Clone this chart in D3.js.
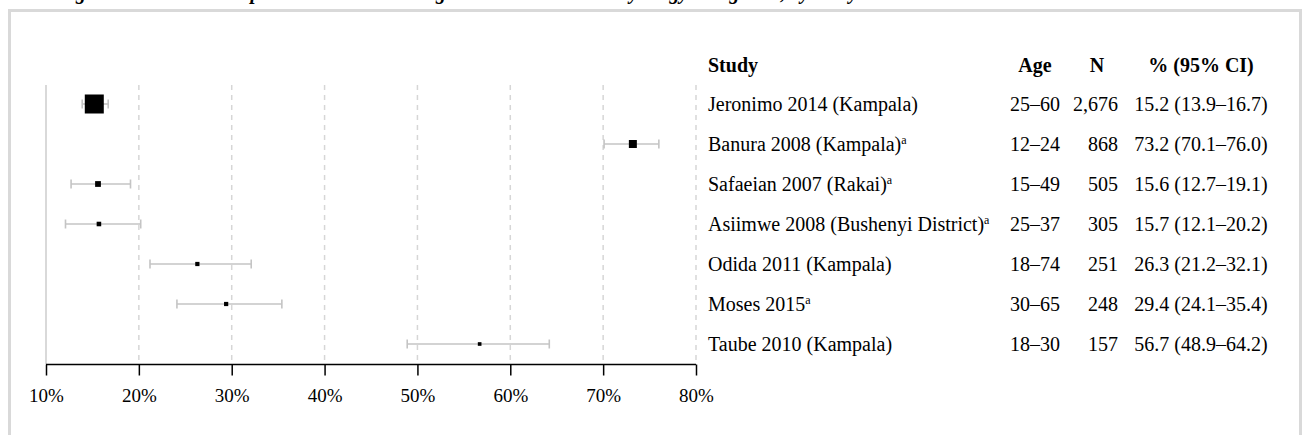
<!DOCTYPE html>
<html>
<head>
<meta charset="utf-8">
<script src="https://cdn.jsdelivr.net/npm/d3@7"></script>
<style>
  html, body { margin: 0; padding: 0; background: #fff; overflow: hidden; }
  svg { display: block; }
  text { font-family: "Liberation Serif", "Times New Roman", serif; fill: #000; }
</style>
</head>
<body>
<svg id="chart" width="1303" height="435"></svg>
<script>
const titleText = "Figure 1. Overall HPV prevalence rates among women with normal cytology in Uganda, by study";
const studies = ["Jeronimo 2014 (Kampala)", "Banura 2008 (Kampala)", "Safaeian 2007 (Rakai)", "Asiimwe 2008 (Bushenyi District)", "Odida 2011 (Kampala)", "Moses 2015", "Taube 2010 (Kampala)"];
const footnote = [false, true, true, true, false, true, false];
const ages = ["25\u201360", "12\u201324", "15\u201349", "25\u201337", "18\u201374", "30\u201365", "18\u201330"];
const sampleN = [2676, 868, 505, 305, 251, 248, 157];
const estimate = [15.2, 73.2, 15.6, 15.7, 26.3, 29.4, 56.7];
const lower = [13.9, 70.1, 12.7, 12.1, 21.2, 24.1, 48.9];
const upper = [16.7, 76.0, 19.1, 20.2, 32.1, 35.4, 64.2];
const xTicks = [10, 20, 30, 40, 50, 60, 70, 80];
const headers = ["Study", "Age", "N", "% (95% CI)"];

const svg = d3.select("#chart");

// frame
svg.append("rect").attr("x", 9.5).attr("y", 10.5).attr("width", 1291).attr("height", 460)
  .attr("fill", "none").attr("stroke", "#d9d9d9").attr("stroke-width", 3);

// title (cut off at top, as in the source image)
svg.append("text").attr("x", 57).attr("y", -1).attr("text-anchor", "start")
  .style("font-size", "20px").style("font-weight", "bold").style("font-style", "italic")
  .text(titleText);

const x = d3.scaleLinear().domain([10, 80]).range([46, 696]);
const y = d3.scaleBand().domain(studies).range([84, 364]);
const size = d3.scaleLinear().domain([0, d3.max(sampleN)]).range([2.7, 19]);
const yc = s => y(s) + y.bandwidth() / 2;

// grid lines
svg.append("g").selectAll("line").data(xTicks).join("line")
  .attr("x1", d => x(d)).attr("x2", d => x(d))
  .attr("y1", 85).attr("y2", 364)
  .attr("stroke", d => d === 10 ? "#cccccc" : "#d6d6d6")
  .attr("stroke-width", 1.5)
  .attr("stroke-dasharray", d => d === 10 ? null : "5,5");

// axis
const axis = d3.axisBottom(x).tickValues(xTicks).tickFormat(d => d + "%").tickSize(11).tickPadding(13);
const ag = svg.append("g").attr("transform", "translate(0,364.5)").call(axis);
ag.select(".domain").attr("stroke", "#000").attr("stroke-width", 1.5).attr("d", `M${x(10)},0H${x(80)}`);
ag.selectAll(".tick line").attr("stroke", "#000").attr("stroke-width", 1.5);
ag.selectAll(".tick text").style("font-size", "19px").style("font-family", "Liberation Serif, serif").attr("fill", "#000");

// CIs
const rows = studies.map((s, i) => ({ s, i }));
const ci = svg.append("g");
ci.selectAll("line.ci").data(rows).join("line").attr("class", "ci")
  .attr("x1", d => x(lower[d.i])).attr("x2", d => x(upper[d.i]))
  .attr("y1", d => yc(d.s)).attr("y2", d => yc(d.s))
  .attr("stroke", "#c4c4c4").attr("stroke-width", 1.6);
ci.selectAll("line.capl").data(rows).join("line").attr("class", "capl")
  .attr("x1", d => x(lower[d.i])).attr("x2", d => x(lower[d.i]))
  .attr("y1", d => yc(d.s) - 4.5).attr("y2", d => yc(d.s) + 4.5)
  .attr("stroke", "#c4c4c4").attr("stroke-width", 1.6);
ci.selectAll("line.capu").data(rows).join("line").attr("class", "capu")
  .attr("x1", d => x(upper[d.i])).attr("x2", d => x(upper[d.i]))
  .attr("y1", d => yc(d.s) - 4.5).attr("y2", d => yc(d.s) + 4.5)
  .attr("stroke", "#c4c4c4").attr("stroke-width", 1.6);

// boxes
svg.append("g").selectAll("rect").data(rows).join("rect")
  .attr("x", d => x(estimate[d.i]) - size(sampleN[d.i]) / 2)
  .attr("y", d => yc(d.s) - size(sampleN[d.i]) / 2)
  .attr("width", d => size(sampleN[d.i]))
  .attr("height", d => size(sampleN[d.i]))
  .attr("fill", "#000");

// table
const colStudy = 708, colAge = 1035, colN = 1118, colPct = 1201;
const hdrY = 65;
const hdr = svg.append("g").style("font-size", "20px").style("font-weight", "bold");
hdr.append("text").attr("x", colStudy).attr("y", hdrY).attr("dy", "0.35em").text(headers[0]);
hdr.append("text").attr("x", colAge).attr("y", hdrY).attr("dy", "0.35em").attr("text-anchor", "middle").text(headers[1]);
hdr.append("text").attr("x", 1097).attr("y", hdrY).attr("dy", "0.35em").attr("text-anchor", "middle").text(headers[2]);
hdr.append("text").attr("x", colPct).attr("y", hdrY).attr("dy", "0.35em").attr("text-anchor", "middle").text(headers[3]);

const tb = svg.append("g").style("font-size", "20px");
const st = tb.selectAll("text.study").data(rows).join("text").attr("class", "study")
  .attr("x", colStudy).attr("y", d => yc(d.s)).attr("dy", "0.35em");
st.append("tspan").text(d => d.s);
st.filter(d => footnote[d.i]).append("tspan").attr("dy", "-0.55em").style("font-size", "12px").text("a");

tb.selectAll("text.age").data(rows).join("text").attr("class", "age")
  .attr("x", colAge).attr("y", d => yc(d.s)).attr("dy", "0.35em").attr("text-anchor", "middle")
  .text(d => ages[d.i]);
tb.selectAll("text.n").data(rows).join("text").attr("class", "n")
  .attr("x", colN).attr("y", d => yc(d.s)).attr("dy", "0.35em").attr("text-anchor", "end")
  .text(d => d3.format(",")(sampleN[d.i]));
tb.selectAll("text.pct").data(rows).join("text").attr("class", "pct")
  .attr("x", colPct).attr("y", d => yc(d.s)).attr("dy", "0.35em").attr("text-anchor", "middle")
  .text(d => `${estimate[d.i].toFixed(1)} (${lower[d.i].toFixed(1)}\u2013${upper[d.i].toFixed(1)})`);
</script>
</body>
</html>
